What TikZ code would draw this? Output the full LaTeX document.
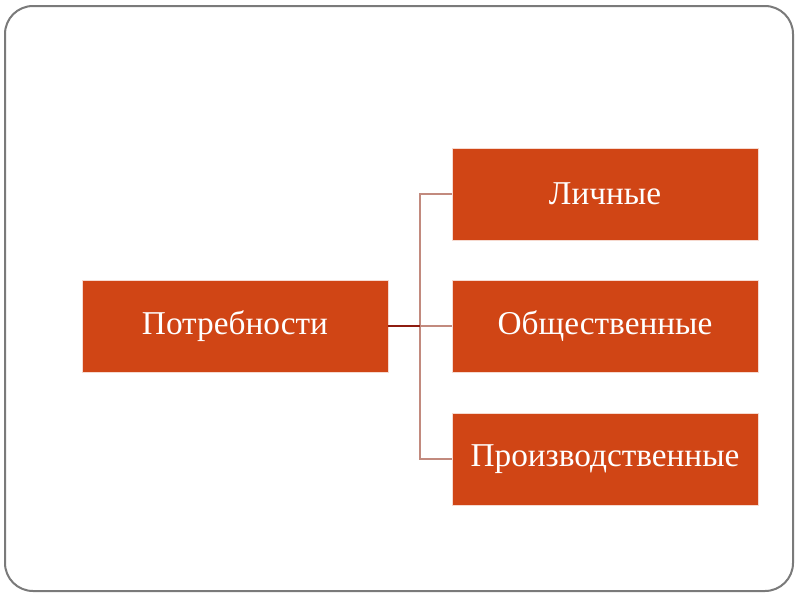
\documentclass[tikz,border=0pt]{standalone}
\usepackage{fontspec}
\setmainfont{Liberation Serif}
\begin{document}
\begin{tikzpicture}[x=1pt,y=-1pt,
  box/.style={fill=boxfill,draw=white!80!boxfill,line width=0.8pt,minimum width=306pt,minimum height=92pt,inner sep=0pt,text=white,font=\fontsize{33.3}{38}\selectfont},
  branch/.style={draw=branchc,line width=1.4pt},
  stem/.style={draw=stemc,line width=1.6pt}]
\definecolor{boxfill}{HTML}{D04515}
\definecolor{branchc}{HTML}{C28A7E}
\definecolor{stemc}{HTML}{8E1C10}
\definecolor{framec}{HTML}{7A7A7A}
\useasboundingbox (0,0) rectangle (800,600);
\fill[white] (0,0) rectangle (800,600);
\draw[framec,line width=2pt,rounded corners=28pt] (5,6) rectangle (793,591);
\node[box] (p) at (235,326) {Потребности};
\node[box] (l) at (605,194) {Личные};
\node[box] (o) at (605,326) {Общественные};
\node[box] (pr) at (605,459) {Производственные};
\coordinate (j) at (420,326);
\draw[branch] (j) |- (l.west);
\draw[branch] (j) |- (pr.west);
\draw[branch] (j) -- (o.west);
\draw[stem] (p.east) -- (j);
\end{tikzpicture}
\end{document}
